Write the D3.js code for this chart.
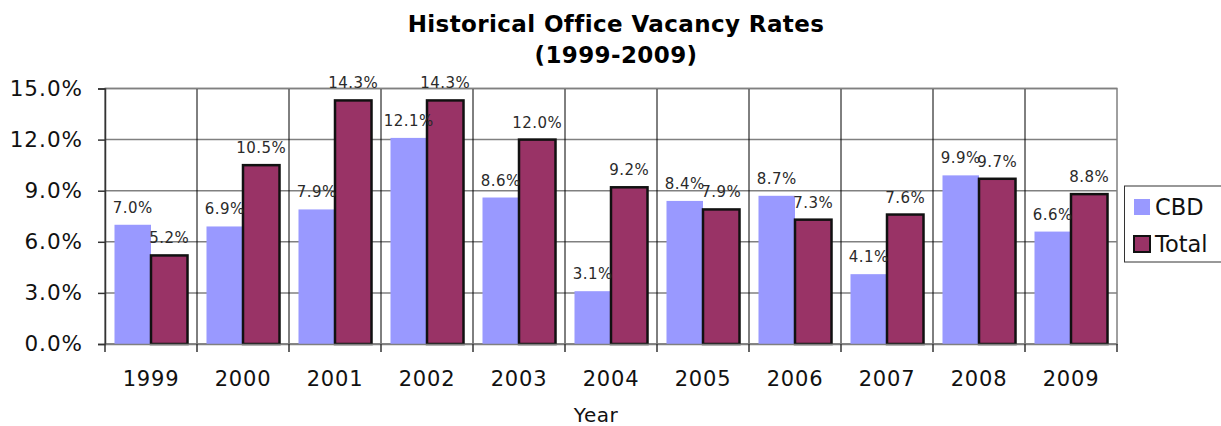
<!DOCTYPE html>
<html><head><meta charset="utf-8">
<script src="https://cdnjs.cloudflare.com/ajax/libs/d3/7.8.5/d3.min.js"></script>
<style>body{margin:0;background:#fff;} svg{display:block;font-family:"DejaVu Sans",Verdana,sans-serif;}</style>
</head><body>
<svg id="c" width="1221" height="426"></svg>
<script>
const years = ["1999","2000","2001","2002","2003","2004","2005","2006","2007","2008","2009"];
const cbd = [7.0,6.9,7.9,12.1,8.6,3.1,8.4,8.7,4.1,9.9,6.6];
const total = [5.2,10.5,14.3,14.3,12.0,9.2,7.9,7.3,7.6,9.7,8.8];
const seriesNames = ["CBD","Total"];
const colors = ["#9999FF","#993366"];
const yTicks = [0,3,6,9,12,15];

const svg = d3.select("#c");
const L = 105, R = 1117, T = 88.5, B = 344;
const x = d3.scaleBand().domain(years).range([L,R]);
const xi = d3.scaleBand().domain(seriesNames).range([0,x.bandwidth()]).paddingOuter(0.26);
const y = d3.scaleLinear().domain([0,15]).range([B,T]);

// gridlines
svg.append("g").selectAll("line").data(yTicks).join("line")
  .attr("x1",L).attr("x2",R).attr("y1",d=>y(d)).attr("y2",d=>y(d))
  .attr("stroke","#808080").attr("stroke-width",1.5);
// vertical category lines
svg.append("g").selectAll("line").data(years.slice(1)).join("line")
  .attr("x1",d=>x(d)).attr("x2",d=>x(d)).attr("y1",T).attr("y2",B)
  .attr("stroke","#000").attr("stroke-width",1);
svg.append("rect").attr("x",L).attr("y",T).attr("width",R-L).attr("height",B-T)
  .attr("fill","none").attr("stroke","#808080").attr("stroke-width",1.5);

const rows = years.map((yr,i)=>({yr, vals:[cbd[i],total[i]]}));
const g = svg.append("g").selectAll("g").data(rows).join("g")
  .attr("transform",d=>`translate(${x(d.yr)},0)`);
g.selectAll("rect").data(d=>d.vals.map((v,j)=>({v,s:seriesNames[j],j}))).join("rect")
  .attr("x",d=>xi(d.s)).attr("width",xi.bandwidth())
  .attr("y",d=>y(d.v)).attr("height",d=>B-y(d.v))
  .attr("fill",d=>colors[d.j])
  .attr("stroke",d=>d.j===1?"#111":"none").attr("stroke-width",2.5);
g.selectAll("text").data(d=>d.vals.map((v,j)=>({v,s:seriesNames[j],j}))).join("text")
  .attr("x",d=>xi(d.s)+xi.bandwidth()/2).attr("y",d=>y(d.v)-12)
  .attr("text-anchor","middle").attr("font-size",15).attr("letter-spacing",0.5).attr("fill","#2a2a2a")
  .text(d=>d.v.toFixed(1)+"%");

// axes
const ya = svg.append("g").attr("transform",`translate(${L},0)`)
  .call(d3.axisLeft(y).tickValues(yTicks).tickSize(7).tickPadding(15).tickFormat(d=>d.toFixed(1)+"%"));
ya.select(".domain").attr("stroke","#333").attr("stroke-width",1.5);
ya.selectAll(".tick line").attr("stroke","#333").attr("stroke-width",1.5);
ya.selectAll("text").attr("font-size",21.5).attr("letter-spacing",1).attr("fill","#111").attr("font-family","DejaVu Sans");

const xa = svg.append("g").attr("transform",`translate(0,${B})`)
  .call(d3.axisBottom(x).tickSize(0).tickPadding(27));
xa.select(".domain").attr("stroke","#808080").attr("stroke-width",1.5);
xa.selectAll("text").attr("font-size",21).attr("letter-spacing",0.8).attr("fill","#111").attr("font-family","DejaVu Sans");
svg.append("g").selectAll("line").data(years.concat(["end"])).join("line")
  .attr("x1",d=>d==="end"?R:x(d)).attr("x2",d=>d==="end"?R:x(d)).attr("y1",B).attr("y2",B+8)
  .attr("stroke","#333").attr("stroke-width",1.5);

svg.append("text").attr("x",596).attr("y",422).attr("text-anchor","middle")
  .attr("font-size",20).attr("letter-spacing",0.5).attr("fill","#111").text("Year");

// title
svg.append("text").attr("x",616).attr("y",32).attr("text-anchor","middle")
  .attr("font-size",23).attr("letter-spacing",0.4).attr("font-weight","bold").attr("fill","#000").text("Historical Office Vacancy Rates");
svg.append("text").attr("x",616).attr("y",63).attr("text-anchor","middle")
  .attr("font-size",23).attr("letter-spacing",0.4).attr("font-weight","bold").attr("fill","#000").text("(1999-2009)");

// legend
const lg = svg.append("g");
lg.append("rect").attr("x",1124.5).attr("y",186).attr("width",110).attr("height",76)
  .attr("fill","#fff").attr("stroke","#333").attr("stroke-width",1);
seriesNames.forEach((s,i)=>{
  const yy = 199 + i*37;
  lg.append("rect").attr("x",1134).attr("y",yy).attr("width",16).attr("height",16)
    .attr("fill",colors[i]).attr("stroke",i===1?"#111":"none").attr("stroke-width",2);
  lg.append("text").attr("x",1155).attr("y",yy+16).attr("font-size",22.5).attr("fill","#111").text(s);
});
</script>
</body></html>
